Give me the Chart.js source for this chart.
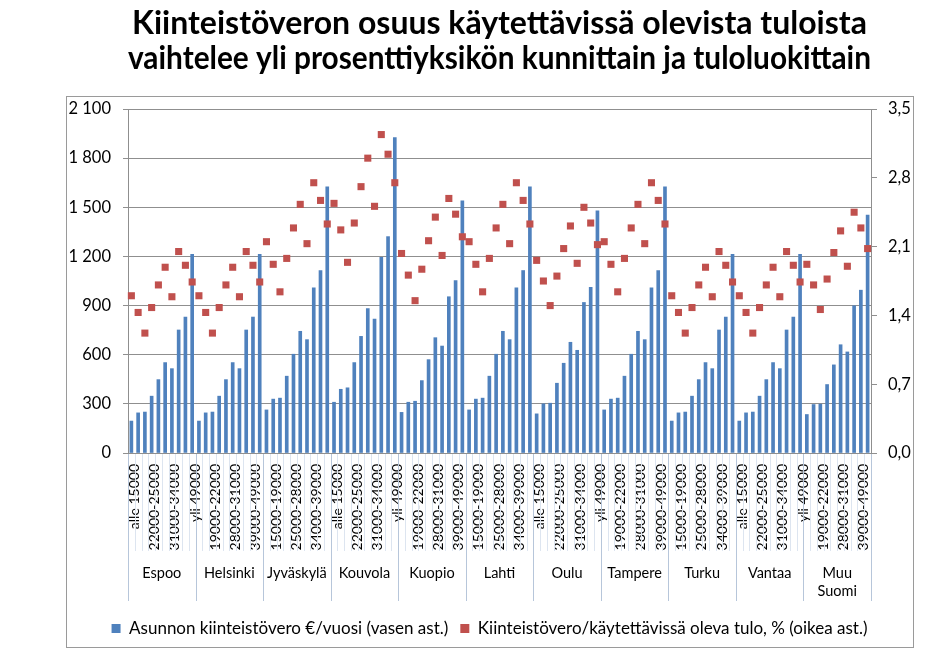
<!DOCTYPE html>
<html>
<head>
<meta charset="utf-8">
<script src="https://cdn.jsdelivr.net/npm/chart.js@4.4.1/dist/chart.umd.min.js"></script>
<style>
  body { margin: 0; background: #fff; }
  #wrap { width: 926px; height: 653px; }
</style>
</head>
<body>
<div id="wrap"><canvas id="chart" width="926" height="653"></canvas></div>
<script>
// kunnat ja tuloluokat
var cities = ['Espoo', 'Helsinki', 'Jyväskylä', 'Kouvola', 'Kuopio', 'Lahti', 'Oulu', 'Tampere', 'Turku', 'Vantaa', 'Muu Suomi'];
var incomeClasses = ['alle 15000', '15000-19000', '19000-22000', '22000-25000', '25000-28000',
  '28000-31000', '31000-34000', '34000-39000', '39000-49000', 'yli 49000'];

// asunnon kiinteistövero €/vuosi, kunnittain (10 tuloluokkaa per kunta)
var veroEuro = [
  195, 245, 250, 347, 448, 552, 515, 751, 830, 1213,      // Espoo
  195, 245, 250, 347, 448, 552, 515, 751, 830, 1213,      // Helsinki
  263, 329, 335, 469, 603, 743, 692, 1008, 1114, 1625,    // Jyväskylä
  310, 389, 398, 552, 712, 881, 818, 1195, 1321, 1925,    // Kouvola
  248, 310, 316, 442, 570, 704, 653, 954, 1053, 1540,     // Kuopio
  263, 329, 335, 469, 603, 743, 692, 1008, 1114, 1625,    // Lahti
  239, 300, 304, 426, 548, 676, 627, 919, 1012, 1479,     // Oulu
  263, 329, 335, 469, 603, 743, 692, 1008, 1114, 1625,    // Tampere
  195, 245, 250, 347, 448, 552, 515, 751, 830, 1213,      // Turku
  195, 245, 250, 347, 448, 552, 515, 751, 830, 1213,      // Vantaa
  235, 296, 298, 418, 538, 661, 617, 899, 994, 1453       // Muu Suomi
];

// kiinteistövero / käytettävissä oleva tulo, %
var veroProsentti = [
  1.60, 1.43, 1.22, 1.48, 1.71, 1.89, 1.59, 2.05, 1.91, 1.74,   // Espoo
  1.60, 1.43, 1.22, 1.48, 1.71, 1.89, 1.59, 2.05, 1.91, 1.74,   // Helsinki
  2.15, 1.92, 1.64, 1.98, 2.29, 2.53, 2.13, 2.75, 2.57, 2.33,   // Jyväskylä
  2.54, 2.27, 1.94, 2.34, 2.71, 3.00, 2.51, 3.24, 3.04, 2.75,   // Kouvola
  2.03, 1.81, 1.55, 1.87, 2.16, 2.40, 2.01, 2.59, 2.43, 2.20,   // Kuopio
  2.15, 1.92, 1.64, 1.98, 2.29, 2.53, 2.13, 2.75, 2.57, 2.33,   // Lahti
  1.96, 1.75, 1.50, 1.80, 2.08, 2.31, 1.93, 2.50, 2.34, 2.12,   // Oulu
  2.15, 1.92, 1.64, 1.98, 2.29, 2.53, 2.13, 2.75, 2.57, 2.33,   // Tampere
  1.60, 1.43, 1.22, 1.48, 1.71, 1.89, 1.59, 2.05, 1.91, 1.74,   // Turku
  1.60, 1.43, 1.22, 1.48, 1.71, 1.89, 1.59, 2.05, 1.91, 1.74,   // Vantaa
  1.92, 1.71, 1.46, 1.77, 2.04, 2.26, 1.90, 2.45, 2.29, 2.08    // Muu Suomi
];

var titleLines = ['Kiinteistöveron osuus käytettävissä olevista tuloista',
  'vaihtelee yli prosenttiyksikön kunnittain ja tuloluokittain'];
var legendBar = 'Asunnon kiinteistövero €/vuosi (vasen ast.)';
var legendDot = 'Kiinteistövero/käytettävissä oleva tulo, % (oikea ast.)';

//costruisco le etichette della categoria
var categoryLabels = [];
for (var c = 0; c < cities.length; c++) {
  for (var k = 0; k < incomeClasses.length; k++) {
    categoryLabels.push(incomeClasses[k]);
  }
}
var cityLabels = cities.map(function(name) {
  return name.indexOf(' ') > 0 ? name.split(' ') : name;
});

var fontName = 'Lato';

//cornice grigia e sfondo
var framePlugin = {
  id: 'frame',
  beforeDraw: function(chart) {
    var ctx = chart.ctx;
    ctx.save();
    ctx.fillStyle = '#fff';
    ctx.fillRect(0, 0, chart.width, chart.height);
    ctx.strokeStyle = '#9a9a9a';
    ctx.lineWidth = 1;
    ctx.strokeRect(66.5, 96.5, 847, 551);
    ctx.restore();
  }
};

//linee di separazione sotto l'asse x (disegnate prima del testo)
var groupLinesPlugin = {
  id: 'groupLines',
  beforeDatasetsDraw: function(chart) {
    var xs = chart.scales.x;
    var x2 = chart.scales.x2;
    var ctx = chart.ctx;
    var step = xs.width / categoryLabels.length;
    ctx.save();
    ctx.lineWidth = 1;
    for (var i = 0; i <= categoryLabels.length; i++) {
      var px = Math.round(xs.left + i * step) + 0.5;
      var isCity = i % incomeClasses.length === 0;
      ctx.strokeStyle = isCity ? '#b7c6da' : '#dde5f0';
      ctx.beginPath();
      ctx.moveTo(px, xs.top + 1);
      ctx.lineTo(px, isCity ? x2.top + 50 : xs.bottom);
      ctx.stroke();
    }
    ctx.restore();
  }
};

var ctx = document.getElementById('chart');
var chart = new Chart(ctx, {
  type: 'bar',
  data: {
    labels: categoryLabels,
    datasets: [{
      type: 'line',
      label: legendDot,
      data: veroProsentti,
      yAxisID: 'y1',
      xAxisID: 'x',
      showLine: false,
      pointStyle: 'rect',
      pointRadius: 5,
      pointHoverRadius: 5,
      pointBorderWidth: 0,
      borderWidth: 0,
      backgroundColor: '#C0504D',
      borderColor: '#C0504D',
      order: 0
    }, {
      type: 'bar',
      label: legendBar,
      data: veroEuro,
      yAxisID: 'y',
      xAxisID: 'x',
      backgroundColor: '#4F81BD',
      borderWidth: 0,
      barThickness: 3,
      order: 1
    }]
  },
  options: {
    responsive: false,
    animation: false,
    layout: { padding: { left: 66, right: 13, top: 0, bottom: 6 } },
    plugins: {
      title: {
        display: true,
        fullSize: false,
        text: titleLines,
        color: '#000',
        font: { family: fontName, size: 32, weight: 'bold', lineHeight: 1.094 },
        padding: { top: 6, bottom: 33 }
      },
      legend: {
        display: true,
        position: 'bottom',
        reverse: true,
        labels: {
          color: '#000',
          font: { family: fontName, size: 17 },
          boxWidth: 9,
          boxHeight: 9,
          padding: 12
        }
      },
      tooltip: { enabled: false }
    },
    scales: {
      x: {
        type: 'category',
        position: 'bottom',
        offset: true,
        grid: { display: false, drawTicks: false },
        border: { display: false },
        ticks: {
          autoSkip: false,
          minRotation: 90,
          maxRotation: 90,
          padding: 11,
          labelOffset: 3,
          color: '#000',
          font: { family: fontName, size: 14 },
          callback: function(value, index) {
            return index % 3 === 0 ? categoryLabels[index] : '';
          }
        },
        afterFit: function(scale) { scale.height = 98; }
      },
      x2: {
        type: 'category',
        position: 'bottom',
        labels: cityLabels,
        offset: true,
        grid: { display: false, drawTicks: false },
        border: { display: false },
        ticks: {
          autoSkip: false,
          maxRotation: 0,
          padding: 14,
          color: '#000',
          font: { family: fontName, size: 14.5 }
        },
        afterFit: function(scale) { scale.height = 57; }
      },
      y: {
        position: 'left',
        min: 0,
        max: 2100,
        ticks: {
          stepSize: 300,
          padding: 12,
          color: '#000',
          font: { family: fontName, size: 16.5 },
          callback: function(value) {
            return String(value).replace(/\B(?=(\d{3})+(?!\d))/g, ' ');
          }
        },
        grid: { color: '#8f8f8f', tickLength: 5 },
        border: { color: '#8f8f8f' },
        afterFit: function(scale) { scale.width = 62; }
      },
      y1: {
        position: 'right',
        min: 0,
        max: 3.5,
        ticks: {
          stepSize: 0.7,
          padding: 11,
          color: '#000',
          font: { family: fontName, size: 16.5 },
          callback: function(value) {
            return value.toFixed(1).replace('.', ',');
          }
        },
        grid: { drawOnChartArea: false, color: '#8f8f8f', tickLength: 6 },
        border: { color: '#8f8f8f' },
        afterFit: function(scale) { scale.width = 42; }
      }
    }
  },
  plugins: [framePlugin, groupLinesPlugin]
});
</script>
</body>
</html>
